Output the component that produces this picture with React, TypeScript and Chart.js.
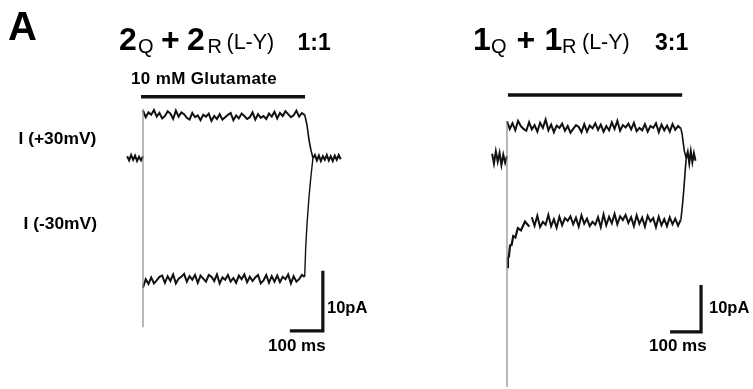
import React, { useEffect, useRef } from "react";
import { Chart, registerables } from "chart.js";
Chart.register(...registerables);

// ---------------- data (time in ms, current in pA) ----------------
// Panel 1: 2Q + 2R (L-Y) 1:1
const P1_DT = 8.3; // sampling interval of the plotted traces
const P1_TOP = [
  7.9, 6.8, 7.6, 7.2, 8.0, 6.9, 7.5, 6.6, 7.0, 7.8,
  7.4, 6.5, 7.9, 6.9, 7.6, 7.3, 6.7, 6.4, 7.5, 6.8,
  7.1, 6.3, 7.2, 6.9, 7.4, 6.2, 7.0, 6.5, 7.3, 6.4,
  6.8, 7.2, 7.5, 6.3, 7.1, 6.6, 7.4, 7.0, 6.5, 6.8,
  7.6, 6.4, 7.3, 6.7, 7.0, 6.5, 7.4, 6.9, 7.7, 6.6,
  7.5, 7.0, 7.8, 7.3, 6.8, 7.1, 7.9, 6.9, 7.5, 7.2,
];
const P1_BOT = [
  -21.6, -20.2, -21.0, -19.9, -20.9, -20.4, -19.8, -19.6, -20.8, -19.7,
  -20.5, -19.4, -20.9, -20.1, -19.8, -19.3, -20.6, -19.7, -20.3, -19.5,
  -20.8, -19.6, -20.1, -20.6, -19.5, -19.8, -20.5, -19.4, -20.9, -19.9,
  -20.3, -19.5, -20.6, -20.0, -20.8, -19.6, -20.2, -19.4, -20.7, -19.8,
  -20.5, -19.9, -19.5, -20.9, -20.4, -19.5, -20.8, -19.7, -20.6, -19.6,
  -20.7, -19.8, -20.2, -19.4, -20.9, -19.7, -20.6, -20.2, -19.5, -19.8,
];
const P1_PRE_T = [-48, -42, -36, -30, -24, -18, -12, -6, 0];
const P1_PRE = [0.3, -0.4, 0.5, -0.3, 0.4, -0.5, 0.2, -0.4, 0.3];
const P1_POST_T = [515, 521, 527, 533, 539, 545, 551, 557, 563, 569, 575, 581, 587, 593, 599];
const P1_POST = [0.0, 0.5, -0.4, 0.4, -0.5, 0.3, -0.3, 0.5, -0.4, 0.3, -0.5, 0.4, -0.3, 0.5, -0.2];
const P1_TOP_OFF_T = [490, 497, 503, 509, 515];
const P1_TOP_OFF = [7.2, 5.5, 3.0, 1.3, 0.0];
const P1_BOT_OFF_T = [490, 493, 497, 503, 509, 515];
const P1_BOT_OFF = [-19.8, -15.0, -11.0, -6.5, -3.0, 0.0];
const P1_CAP = [8.2, -28.2]; // capacitive transient at t = 0
const P1_GLU_T = [-6, 491];
const P1_GLU = 10.2;
const P1_BAR_END = [545, -28.8]; // corner of the scale bar (ms, pA)

// Panel 2: 1Q + 1R (L-Y) 3:1
const P2_DT = 8.9;
const P2_TOP = [
  7.8, 6.2, 7.4, 5.9, 7.9, 6.8, 6.2, 5.8, 7.6, 6.1,
  7.0, 5.6, 7.5, 6.4, 8.2, 5.9, 7.1, 5.5, 6.9, 6.4,
  7.3, 5.8, 6.8, 5.4, 6.2, 7.0, 6.6, 5.5, 7.2, 5.6,
  6.9, 6.3, 7.4, 6.0, 7.1, 5.6, 6.8, 5.9, 7.6, 6.2,
  7.9, 5.8, 7.0, 6.5, 7.3, 6.1, 7.5, 5.7, 6.4, 5.9,
  7.2, 5.6, 6.8, 6.4, 7.4, 5.5, 7.1, 5.9, 6.9, 5.6,
  7.2, 6.0, 6.8, 6.3,
];
const P2_RISE_T = [0, 3, 6, 10, 15, 20, 27, 35, 45, 58, 72];
const P2_RISE = [-23.2, -21.2, -21.0, -18.6, -18.5, -16.6, -16.9, -14.9, -15.4, -13.5, -14.6];
const P2_BOT_START = 80;
const P2_BOT = [
  -12.6, -14.4, -12.3, -14.7, -13.6, -14.2, -12.1, -14.5, -13.0, -14.8,
  -12.5, -14.3, -12.8, -13.4, -12.4, -14.1, -12.7, -14.6, -12.2, -14.0,
  -12.9, -14.5, -13.6, -14.2, -12.6, -14.7, -12.0, -14.3, -12.5, -13.9,
  -11.9, -14.1, -12.4, -13.2, -12.1, -13.8, -12.6, -14.5, -12.2, -14.0,
  -12.7, -14.6, -12.3, -13.5, -12.8, -14.7, -12.5, -14.3, -13.0, -14.5,
  -12.6, -14.1, -12.9, -14.4, -13.1,
];
const P2_PRE_T = [-48, -42, -36, -30, -24, -18, -12, -6, 0];
const P2_PRE = [0.9, -1.2, 1.4, -0.8, 1.1, -1.5, 0.7, -1.0, 0.4];
const P2_POST_T = [578, 583, 588, 593, 598, 603, 608];
const P2_POST = [0.0, 1.3, -1.1, 1.4, -0.9, 1.0, -0.6];
const P2_TOP_OFF_T = [561, 565, 568, 572, 578];
const P2_TOP_OFF = [6.3, 5.0, 3.5, 1.5, 0.0];
const P2_BOT_OFF_T = [561, 566, 570, 574, 578];
const P2_BOT_OFF = [-13.1, -10.0, -7.0, -3.5, 0.0];
const P2_CAP = [7.8, -48.7];
const P2_GLU_T = [3, 565];
const P2_GLU = 13.4;
const P2_BAR_END = [626, -37.0];

const SCALE_MS = 100;
const SCALE_PA = 10;

// ---------------- layout ----------------
const W = 753;
const H = 389;
const PANEL1 = { x0: 143, msPx: 0.33, y0: 158, paPx: 6.0 };
const PANEL2 = { x0: 507, msPx: 0.31, y0: 158, paPx: 4.7 };
const FONT = '"Liberation Sans", Arial, Helvetica, sans-serif';
const TRACE_W = 2.0;

function scalesFor(p: { x0: number; msPx: number; y0: number; paPx: number }) {
  return {
    x: { type: "linear", display: false, min: -p.x0 / p.msPx, max: (W - p.x0) / p.msPx },
    y: { type: "linear", display: false, min: -(H - p.y0) / p.paPx, max: p.y0 / p.paPx },
  };
}

function series(xs: number[], ys: number[], panel: number, color: string, width: number, extra: any = {}) {
  return {
    data: xs.map((x, i) => ({ x, y: ys[i] })),
    xAxisID: panel === 1 ? "x1" : "x2",
    yAxisID: panel === 1 ? "y1" : "y2",
    showLine: true,
    borderColor: color,
    backgroundColor: color,
    borderWidth: width,
    pointRadius: 0,
    pointHoverRadius: 0,
    tension: 0,
    fill: false,
    ...extra,
  };
}

function Txt({ x, base, size, bold = true, ls = 0, children }: any) {
  return (
    <div
      style={{
        position: "absolute",
        left: x,
        top: base - 0.8465 * size,
        fontFamily: FONT,
        fontSize: size,
        lineHeight: size + "px",
        fontWeight: bold ? 700 : 400,
        letterSpacing: ls,
        whiteSpace: "nowrap",
        color: "#000",
      }}
    >
      {children}
    </div>
  );
}

export default function App() {
  const ref = useRef<HTMLCanvasElement | null>(null);

  useEffect(() => {
    if (!ref.current) return;
    const s1 = scalesFor(PANEL1);
    const s2 = scalesFor(PANEL2);
    const t1 = P1_TOP.map((_, i) => i * P1_DT);
    const b1 = P1_BOT.map((_, i) => i * P1_DT);
    const t2 = P2_TOP.map((_, i) => i * P2_DT);
    const b2 = P2_BOT.map((_, i) => P2_BOT_START + i * P2_DT);
    const black = "#111";
    const grey = "#8a8a8a";
    const bar = { borderCapStyle: "butt", borderJoinStyle: "miter" };

    const datasets = [
      // panel 1
      series([0, 0], P1_CAP, 1, grey, 1.2),
      series(P1_PRE_T, P1_PRE, 1, black, TRACE_W),
      series(t1, P1_TOP, 1, black, TRACE_W),
      series(P1_TOP_OFF_T, P1_TOP_OFF, 1, black, 1.6),
      series(b1, P1_BOT, 1, black, TRACE_W),
      series(P1_BOT_OFF_T, P1_BOT_OFF, 1, black, 1.4),
      series(P1_POST_T, P1_POST, 1, black, TRACE_W),
      series(P1_GLU_T, [P1_GLU, P1_GLU], 1, black, 3.5, bar),
      series(
        [P1_BAR_END[0] - SCALE_MS, P1_BAR_END[0], P1_BAR_END[0]],
        [P1_BAR_END[1], P1_BAR_END[1], P1_BAR_END[1] + SCALE_PA],
        1, black, 3.2, bar
      ),
      // panel 2
      series([0, 0], P2_CAP, 2, grey, 1.2),
      series(P2_PRE_T, P2_PRE, 2, black, TRACE_W),
      series(t2, P2_TOP, 2, black, TRACE_W),
      series(P2_TOP_OFF_T, P2_TOP_OFF, 2, black, 1.6),
      series(P2_RISE_T, P2_RISE, 2, black, 2.2),
      series(b2, P2_BOT, 2, black, TRACE_W),
      series(P2_BOT_OFF_T, P2_BOT_OFF, 2, black, 1.6),
      series(P2_POST_T, P2_POST, 2, black, TRACE_W),
      series(P2_GLU_T, [P2_GLU, P2_GLU], 2, black, 3.5, bar),
      series(
        [P2_BAR_END[0] - SCALE_MS, P2_BAR_END[0], P2_BAR_END[0]],
        [P2_BAR_END[1], P2_BAR_END[1], P2_BAR_END[1] + SCALE_PA],
        2, black, 3.2, bar
      ),
    ];

    const chart = new Chart(ref.current, {
      type: "scatter",
      data: { datasets: datasets as any },
      options: {
        animation: false,
        responsive: false,
        events: [],
        layout: { padding: 0 },
        plugins: { legend: { display: false }, tooltip: { enabled: false }, title: { display: false } },
        scales: { x1: s1.x, y1: s1.y, x2: s2.x, y2: s2.y } as any,
      },
    });
    return () => chart.destroy();
  }, []);

  return (
    <div style={{ position: "absolute", left: 0, top: 0, width: W, height: H, background: "#fff", overflow: "hidden" }}>
      <canvas ref={ref} width={W} height={H} style={{ position: "absolute", left: 0, top: 0, width: W, height: H }} />
      <Txt x={8} base={40} size={40}>A</Txt>

      <Txt x={119} base={50} size={32}>2</Txt>
      <Txt x={138} base={53} size={20} bold={false}>Q</Txt>
      <Txt x={161} base={50} size={32}>+</Txt>
      <Txt x={187} base={50} size={32}>2</Txt>
      <Txt x={207.5} base={53} size={20} bold={false}>R</Txt>
      <Txt x={226.5} base={50} size={21.5} bold={false}>(L-Y)</Txt>
      <Txt x={297.5} base={50} size={23}>1:1</Txt>

      <Txt x={473} base={50} size={32}>1</Txt>
      <Txt x={491} base={53} size={20} bold={false}>Q</Txt>
      <Txt x={516.5} base={50} size={32}>+</Txt>
      <Txt x={544.5} base={50} size={32}>1</Txt>
      <Txt x={562} base={53} size={20} bold={false}>R</Txt>
      <Txt x={582} base={50} size={21.5} bold={false}>(L-Y)</Txt>
      <Txt x={655} base={50} size={23}>3:1</Txt>

      <Txt x={131} base={84.5} size={17} ls={0.35}>10 mM Glutamate</Txt>

      <Txt x={18.5} base={145} size={17.4}>I (+30mV)</Txt>
      <Txt x={23.5} base={230} size={17.4}>I (-30mV)</Txt>

      <Txt x={327} base={313} size={16.5}>10pA</Txt>
      <Txt x={268} base={351} size={17}>100 ms</Txt>
      <Txt x={709} base={313} size={16.5}>10pA</Txt>
      <Txt x={649} base={351} size={17}>100 ms</Txt>
    </div>
  );
}
